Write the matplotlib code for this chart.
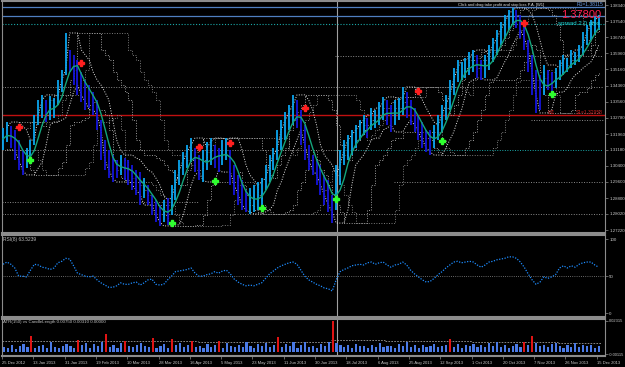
import numpy as np
import pandas as pd
import matplotlib
matplotlib.use("Agg")
import matplotlib.pyplot as plt

plt.rcParams['font.family'] = ['Liberation Sans', 'DejaVu Sans']

# ---- data (EUR/USD daily, one bar ~ 2 sessions) ----
dates = ["25 Dec 2012", "13 Jan 2013", "31 Jan 2013", "19 Feb 2013", "10 Mar 2013",
         "28 Mar 2013", "16 Apr 2013", "5 May 2013", "23 May 2013", "11 Jun 2013",
         "30 Jun 2013", "18 Jul 2013", "6 Aug 2013", "25 Aug 2013", "12 Sep 2013",
         "1 Oct 2013", "20 Oct 2013", "7 Nov 2013", "26 Nov 2013", "15 Dec 2013"]

highs = [1.3227, 1.3256, 1.3237, 1.3217, 1.3167, 1.3118, 1.3128, 1.3167, 1.3291, 1.3365,
         1.3390, 1.3365, 1.3385, 1.3375, 1.3464, 1.3513, 1.3696, 1.3612, 1.3587, 1.3563,
         1.3503, 1.3464, 1.3439, 1.3404, 1.3365, 1.3266, 1.3167, 1.3118, 1.3093, 1.3069,
         1.3093, 1.3078, 1.3069, 1.3044, 1.3019, 1.3009, 1.2980, 1.2945, 1.2896, 1.2871,
         1.2846, 1.2871, 1.2881, 1.2945, 1.3019, 1.3069, 1.3108, 1.3143, 1.3177, 1.3128,
         1.3093, 1.3118, 1.3158, 1.3177, 1.3143, 1.3128, 1.3167, 1.3177, 1.3118, 1.3044,
         1.2995, 1.2970, 1.2920, 1.2930, 1.2945, 1.2960, 1.2980, 1.3044, 1.3093, 1.3128,
         1.3217, 1.3266, 1.3306, 1.3340, 1.3390, 1.3365, 1.3316, 1.3241, 1.3143, 1.3093,
         1.3069, 1.3044, 1.2995, 1.2970, 1.2896, 1.3044, 1.3118, 1.3167, 1.3192, 1.3217,
         1.3241, 1.3266, 1.3291, 1.3276, 1.3325, 1.3316, 1.3355, 1.3380, 1.3365, 1.3340,
         1.3365, 1.3375, 1.3429, 1.3404, 1.3365, 1.3325, 1.3291, 1.3256, 1.3217, 1.3217,
         1.3241, 1.3291, 1.3340, 1.3390, 1.3464, 1.3523, 1.3563, 1.3553, 1.3572, 1.3602,
         1.3612, 1.3587, 1.3563, 1.3587, 1.3637, 1.3671, 1.3711, 1.3750, 1.3785, 1.3810,
         1.3819, 1.3810, 1.3785, 1.3735, 1.3661, 1.3587, 1.3513, 1.3488, 1.3538, 1.3513,
         1.3503, 1.3523, 1.3563, 1.3587, 1.3572, 1.3612, 1.3602, 1.3637, 1.3701, 1.3735,
         1.3760, 1.3775, 1.3785]

lows = [1.3118, 1.3158, 1.3128, 1.3069, 1.3019, 1.2995, 1.3029, 1.3059, 1.3143, 1.3241,
        1.3276, 1.3256, 1.3266, 1.3276, 1.3340, 1.3404, 1.3488, 1.3503, 1.3439, 1.3390,
        1.3355, 1.3316, 1.3325, 1.3291, 1.3217, 1.3069, 1.3019, 1.2980, 1.2960, 1.2980,
        1.2995, 1.2970, 1.2945, 1.2920, 1.2896, 1.2846, 1.2881, 1.2846, 1.2797, 1.2762,
        1.2743, 1.2762, 1.2748, 1.2797, 1.2871, 1.2945, 1.2995, 1.3029, 1.3059, 1.3009,
        1.2970, 1.2960, 1.3019, 1.3044, 1.3029, 1.3009, 1.3044, 1.3069, 1.2945, 1.2896,
        1.2846, 1.2822, 1.2812, 1.2802, 1.2812, 1.2822, 1.2846, 1.2920, 1.2960, 1.3019,
        1.3069, 1.3118, 1.3167, 1.3217, 1.3241, 1.3227, 1.3143, 1.3069, 1.3019, 1.2995,
        1.2945, 1.2896, 1.2846, 1.2812, 1.2757, 1.2822, 1.2945, 1.3044, 1.3069, 1.3093,
        1.3128, 1.3167, 1.3192, 1.3177, 1.3217, 1.3227, 1.3241, 1.3266, 1.3241, 1.3207,
        1.3241, 1.3266, 1.3291, 1.3276, 1.3241, 1.3207, 1.3167, 1.3128, 1.3108, 1.3093,
        1.3128, 1.3167, 1.3207, 1.3266, 1.3316, 1.3390, 1.3454, 1.3464, 1.3474, 1.3488,
        1.3503, 1.3474, 1.3464, 1.3474, 1.3513, 1.3553, 1.3587, 1.3637, 1.3671, 1.3711,
        1.3735, 1.3721, 1.3671, 1.3612, 1.3503, 1.3390, 1.3301, 1.3316, 1.3390, 1.3414,
        1.3404, 1.3424, 1.3464, 1.3488, 1.3503, 1.3523, 1.3538, 1.3553, 1.3587, 1.3637,
        1.3661, 1.3686, 1.3711]

rsi = [66, 69, 66, 61, 50, 50, 49, 58, 66, 65,
       62, 61, 59, 61, 68, 70, 74, 73, 64, 54,
       52, 50, 49, 50, 45, 41, 38, 35, 35, 37,
       41, 39, 39, 41, 42, 38, 41, 45, 46, 39,
       38, 39, 45, 50, 56, 57, 58, 59, 61, 54,
       50, 50, 52, 53, 56, 54, 57, 58, 53, 46,
       42, 39, 37, 38, 37, 39, 41, 47, 53, 57,
       61, 64, 66, 68, 69, 66, 58, 50, 45, 42,
       39, 37, 34, 33, 30, 45, 56, 59, 61, 64,
       65, 66, 65, 68, 69, 66, 68, 69, 65, 62,
       65, 66, 69, 65, 58, 53, 49, 45, 42, 43,
       47, 52, 56, 61, 65, 69, 70, 68, 69, 70,
       69, 65, 62, 65, 69, 70, 72, 73, 74, 76,
       76, 74, 69, 62, 53, 45, 39, 42, 49, 47,
       49, 52, 61, 64, 61, 64, 62, 66, 68, 69,
       69, 65, 62]

candle_len = [0.0040, 0.0035, 0.0052, 0.0028, 0.0045, 0.0060, 0.0038, 0.0121, 0.0030, 0.0048,
              0.0055, 0.0033, 0.0077, 0.0042, 0.0036, 0.0050, 0.0065, 0.0044, 0.0030, 0.0092,
              0.0058, 0.0070, 0.0035, 0.0062, 0.0047, 0.0075, 0.0136, 0.0040, 0.0055, 0.0032,
              0.0066, 0.0085, 0.0045, 0.0038, 0.0057, 0.0072, 0.0050, 0.0043, 0.0107, 0.0035,
              0.0048, 0.0060, 0.0030, 0.0099, 0.0055, 0.0068, 0.0041, 0.0052, 0.0085, 0.0037,
              0.0045, 0.0033, 0.0062, 0.0040, 0.0056, 0.0085, 0.0030, 0.0072, 0.0047, 0.0039,
              0.0058, 0.0043, 0.0076, 0.0050, 0.0035, 0.0061, 0.0044, 0.0069, 0.0038, 0.0053,
              0.0114, 0.0042, 0.0060, 0.0048, 0.0074, 0.0036, 0.0055, 0.0078, 0.0040, 0.0050,
              0.0034, 0.0063, 0.0045, 0.0075, 0.0235, 0.0072, 0.0058, 0.0040, 0.0052, 0.0036,
              0.0060, 0.0044, 0.0049, 0.0033, 0.0057, 0.0041, 0.0066, 0.0038, 0.0051, 0.0045,
              0.0030, 0.0062, 0.0047, 0.0075, 0.0040, 0.0055, 0.0036, 0.0058, 0.0043, 0.0050,
              0.0065, 0.0038, 0.0047, 0.0056, 0.0099, 0.0042, 0.0060, 0.0035, 0.0052, 0.0045,
              0.0064, 0.0040, 0.0055, 0.0037, 0.0070, 0.0048, 0.0077, 0.0043, 0.0058, 0.0035,
              0.0050, 0.0062, 0.0041, 0.0077, 0.0056, 0.0121, 0.0068, 0.0045, 0.0053, 0.0039,
              0.0060, 0.0072, 0.0047, 0.0034, 0.0055, 0.0043, 0.0066, 0.0040, 0.0052, 0.0046,
              0.0058, 0.0036, 0.0048]
long_candles = [7, 19, 26, 31, 38, 43, 48, 55, 70, 84, 114, 133, 135]

# ATR(150) level, piecewise
atr_start = [0, 50, 84, 98, 120, 142]
atr_value = [0.0085, 0.0078, 0.0092, 0.0085, 0.0078, 0.0072]

sell_idx = [4, 20, 50, 58, 77, 106, 133]
sell_px = [1.3232, 1.3548, 1.3133, 1.3153, 1.3325, 1.3409, 1.3745]
buy_idx = [7, 43, 54, 66, 85, 112, 140]
buy_px = [1.3069, 1.2757, 1.2965, 1.2832, 1.2876, 1.3162, 1.3395]

price_ticks = [1.38340, 1.37540, 1.36740, 1.35960, 1.35160, 1.34360, 1.33560, 1.32780,
               1.31960, 1.31180, 1.30400, 1.29600, 1.28800, 1.28020, 1.27220]

# dotted pivot levels: value, from bar, to bar, colour
lvl_value = [1.3582, 1.3429, 1.3266, 1.3118, 1.3118, 1.2960, 1.2861, 1.2802]
lvl_from = [85, 0, 135, 0, 85, 100, 0, 0]
lvl_to = [153, 153, 153, 85, 153, 153, 50, 153]
lvl_color = ['#8a8a8a', '#8a8a8a', '#8a8a8a', '#8a8a8a', '#1aa8a8', '#8a8a8a', '#8a8a8a', '#8a8a8a']

r1_level = 1.3824
bid_level = 1.3780
ask_level = 1.3740
s1_level = 1.3290
cursor_bar = 85.2

# ---- figure ----
W, H = 625, 367
fig = plt.figure(figsize=(W / 100, H / 100), dpi=100, facecolor='black')


def box(top, bottom, left=2, right=605):
    return [left / W, 1 - bottom / H, (right - left) / W, (bottom - top) / H]


def ftext(x, y, s, **kw):
    fig.text(x / W, 1 - y / H, s, **kw)


ax = fig.add_axes(box(1, 233))
ax_rsi = fig.add_axes(box(235, 317))
ax_atr = fig.add_axes(box(319, 356))

n = len(highs)
x = np.arange(n)
h = pd.Series(highs)
l = pd.Series(lows)
mid = (h + l) / 2
up = mid.diff().fillna(0) >= 0
cols = np.where(up, '#0aa6f0', '#1515dc')

for a in (ax, ax_rsi, ax_atr):
    a.set_facecolor('black')
    a.set_xlim(-0.26, 153.6)
    for s in a.spines.values():
        s.set_color('#8c8c8c')
        s.set_linewidth(0.8)
    a.spines['top'].set_linewidth(1.5)
    a.spines['bottom'].set_linewidth(1.5)
    a.yaxis.tick_right()
    a.tick_params(axis='y', colors='#8c8c8c', labelcolor='#c8c8c8', labelsize=3.2,
                  length=2, width=0.5, pad=1)
    a.axvline(cursor_bar, color='#a0a0a0', lw=0.8, zorder=1)

# main price panel
ax.set_ylim(1.2708, 1.3854)
ax.set_xticks([])
ax.set_yticks(price_ticks)
ax.set_yticklabels([f"{p:.5f}" for p in price_ticks])

dot = (0, (1, 1.6))
for v, a0, a1, c in zip(lvl_value, lvl_from, lvl_to, lvl_color):
    ax.hlines(v, a0 - 0.3, a1, colors=c, lw=0.7, linestyles=dot, zorder=1)
ax.axhline(r1_level, color='#4f7fc0', lw=0.9, zorder=1)
ax.axhline(bid_level, color='#4f7fc0', lw=0.9, zorder=1)
ax.axhline(ask_level, color='#1aa8a8', lw=0.8, ls=dot, zorder=1)
ax.axhline(s1_level, color='#c01010', lw=1.0, zorder=2)

# channel lines derived from the bars
env = [(h.rolling(10, 1).max().shift(6), l.rolling(10, 1).min().shift(6), '#7a7a7a'),
       (h.rolling(6, 1).max().shift(3), l.rolling(6, 1).min().shift(3), '#9a9a9a')]
for hi, lo, c in env:
    ax.plot(x, hi, color=c, lw=0.7, ls=dot, drawstyle='steps-post', zorder=2)
    ax.plot(x, lo, color=c, lw=0.7, ls=dot, drawstyle='steps-post', zorder=2)
ax.plot(x, h.rolling(3, 1).max().shift(1), color='#e6e6e6', lw=0.7, ls=dot, zorder=3)
ax.plot(x, l.rolling(3, 1).min().shift(1), color='#e6e6e6', lw=0.7, ls=dot, zorder=3)

ax.vlines(x, lows, highs, colors=cols, lw=1.3, zorder=4)
ax.plot(x, mid.rolling(4, 1).mean(), color='#14a57c', lw=1.0, zorder=5)

ax.plot(sell_idx, sell_px, ls='none', marker='P', ms=3.8, color='#ff2020', mec='#ff2020', zorder=6)
ax.plot(buy_idx, buy_px, ls='none', marker='P', ms=3.8, color='#30ff30', mec='#30ff30', zorder=6)

# RSI panel
ax_rsi.set_ylim(-5.0, 105.4)
ax_rsi.set_xticks([])
ax_rsi.set_yticks([0, 50, 100])
ax_rsi.set_yticklabels(['0', '50', '100'])
ax_rsi.axhline(50, color='#8a8a8a', lw=0.6, ls=dot)
ax_rsi.plot(x, rsi, color='#1e8cff', lw=0.9, ls=(0, (1, 1.2)))

# ATR / candle length panel
ax_atr.set_ylim(-0.00262, 0.02462)
ax_atr.set_yticks([0.02315, -0.00115])
ax_atr.set_yticklabels(['0.02315', '-0.00115'])
ax_atr.tick_params(axis='y', labelsize=2.9)
bar_cols = ['#e01414' if i in long_candles else '#4a7ae6' for i in range(n)]
ax_atr.bar(x, candle_len, width=0.55, color=bar_cols, zorder=3)
atr_end = atr_start[1:] + [n]
for a0, a1, v in zip(atr_start, atr_end, atr_value):
    ax_atr.hlines(v, a0 - 0.5, a1 - 0.5, colors='#9a9a9a', lw=0.6, linestyles=(0, (2, 1.5)), zorder=2)
ax_atr.set_xticks([8 * k - 0.5 for k in range(len(dates))])
ax_atr.set_xticklabels(dates, ha='left')
ax_atr.tick_params(axis='x', colors='#8c8c8c', labelcolor='#c8c8c8', labelsize=3.0,
                   length=2, width=0.5, pad=1.5)

# texts
ftext(458, 5, "Click and drag take profit and stop loss P.A. [W1]", color='#e0e0e0',
      fontsize=2.9, va='center')
ftext(603, 5, "R1=1.38115", color='#6a9ae0', fontsize=3.6, va='center', ha='right')
ftext(601, 15, "1.37800", color='#ff2050', fontsize=8, va='center', ha='right')
ftext(600, 24, "spread 2.0 pips", color='#20d8d8', fontsize=4.4, va='center', ha='right')
ftext(552, 113, "W1", color='#d02020', fontsize=3.4, va='center', ha='center')
ftext(603, 113, "S1=1.32958", color='#d02020', fontsize=3.6, va='center', ha='right')
ftext(3, 240, "RSI(8) 63.5239", color='#c0c0c0', fontsize=3.5, va='center')
ftext(3, 322, "ATR(150) vs CandleLength 0.00750 0.00310 0.00000", color='#c0c0c0',
      fontsize=3.2, va='center')

fig.savefig("out.png", dpi=100, facecolor='black')
